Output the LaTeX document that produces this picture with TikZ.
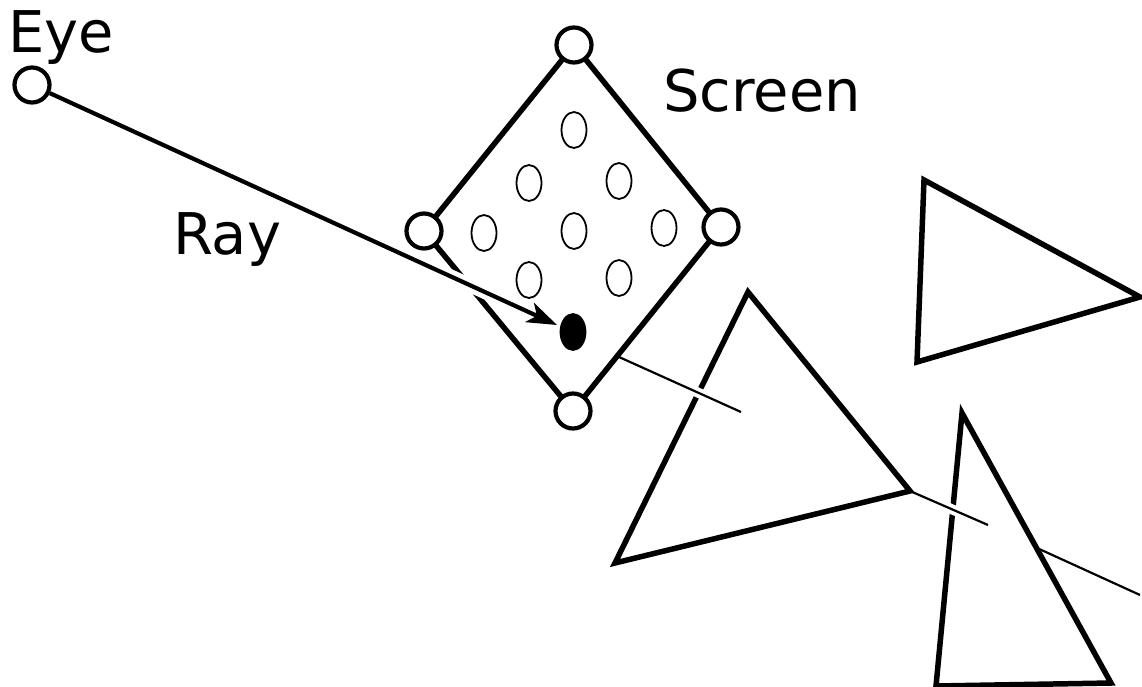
\documentclass[tikz,border=0pt]{standalone}
\usepackage{fontspec}
\setmainfont{DejaVu Sans}
\usetikzlibrary{arrows.meta,shapes.geometric}
\begin{document}
\begin{tikzpicture}[x=1pt,y=-1pt,
  vtx/.style={circle,draw=black,fill=white,line width=4.2pt,minimum size=35pt,inner sep=0pt},
  pix/.style={ellipse,draw=black,fill=white,line width=1.8pt,minimum width=25pt,minimum height=36pt,inner sep=0pt},
  hit/.style={pix,fill=black},
  edge/.style={line width=5.5pt,line join=miter},
  thin/.style={line width=2.2pt},
  halo/.style={draw=white,line width=14pt},
  lbl/.style={anchor=base west,inner sep=0pt,font=\fontsize{57.5}{62}\selectfont}
]
\useasboundingbox (0,0) rectangle (1142,687);
% screen vertices coordinates
\coordinate (vt) at (574,45);
\coordinate (vl) at (424,231);
\coordinate (vr) at (721,227);
\coordinate (vb) at (573,411);
% screen edges
\draw[edge] (vt) -- (vr) -- (vb) -- (vl) -- cycle;
% triangles
\coordinate (a1) at (748,292);
\coordinate (a2) at (910,491);
\coordinate (a3) at (615,563);
\draw[edge] (a1) -- (a2) -- (a3) -- cycle;
\coordinate (b1) at (962,413);
\coordinate (b2) at (1111,683);
\coordinate (b3) at (936,686);
\draw[edge] (b1) -- (b2) -- (b3) -- cycle;
\coordinate (c1) at (924,180);
\coordinate (c2) at (1140,297);
\coordinate (c3) at (917,362);
\draw[edge] (c1) -- (c2) -- (c3) -- cycle;
% pixels
\node[pix] (p1) at (574,130) {};
\node[pix] (p2) at (529,183) {};
\node[pix] (p3) at (619,181) {};
\node[pix] (p4) at (484,233) {};
\node[pix] (p5) at (574,231) {};
\node[pix] (p6) at (664,228) {};
\node[pix] (p7) at (529,280) {};
\node[pix] (p8) at (619,278) {};
\node[hit] (ph) at (573,332) {};
% eye
\node[vtx] (eye) at (32,85) {};
% ray
\coordinate (tip) at (557,325);
\draw[halo,shorten <=380pt,shorten >=60pt] (eye.center) -- (tip);
\draw[line width=4.2pt,-{Stealth[length=30pt,width=21pt,inset=8pt]}] (eye) -- (tip);
% thin continuation rays
\coordinate (r1s) at (619,357);
\coordinate (r1e) at (741,412);
\draw[draw=white,line width=10pt,shorten <=55pt,shorten >=25pt] (r1s) -- (r1e);
\draw[thin] (r1s) -- (r1e);
\coordinate (r2e) at (988,525);
\draw[draw=white,line width=10pt,shorten <=25pt,shorten >=20pt] (a2) -- (r2e);
\draw[thin] (a2) -- (r2e);
\coordinate (r3s) at (1037,548);
\coordinate (r3e) at (1140,595);
\draw[thin] (r3s) -- (r3e);
% vertex circles
\node[vtx] (nt) at (vt) {};
\node[vtx] (nl) at (vl) {};
\node[vtx] (nr) at (vr) {};
\node[vtx] (nb) at (vb) {};
% labels
\node[lbl] (teye) at (8,53) {Eye};
\node[lbl] (tscreen) at (663,112) {Screen};
\node[lbl] (tray) at (173,254) {Ray};
\end{tikzpicture}
\end{document}
